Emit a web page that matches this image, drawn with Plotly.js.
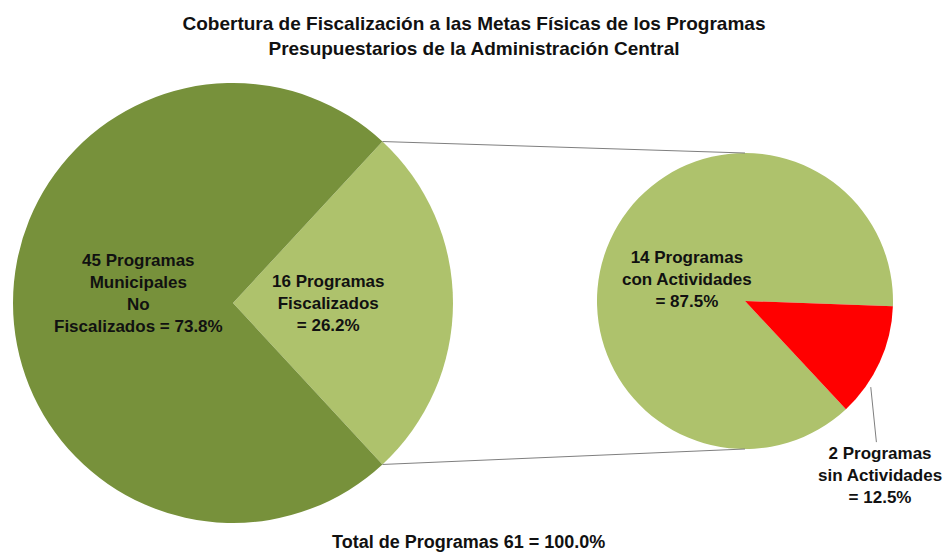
<!DOCTYPE html>
<html>
<head>
<meta charset="utf-8">
<script src="https://cdn.plot.ly/plotly-3.0.1.min.js"></script>
<style>
  html, body { margin: 0; padding: 0; background: #fff; }
  #grafik { width: 943px; height: 554px; }
</style>
</head>
<body>
<div id="grafik"></div>
<script>
/* ==========================================================
   DATA
========================================================== */
const labelsUtama = ["16 Programas<br>Fiscalizados<br>= 26.2%", "45 Programas<br>Municipales<br>No<br>Fiscalizados = 73.8%"];
const nilaiUtama = [16, 45];
const warnaUtama = ["#AEC26C", "#77913B"];

const labelsDetail = ["14 Programas<br>con Actividades<br>= 87.5%", "2 Programas<br>sin Actividades<br>= 12.5%"];
const nilaiDetail = [14, 2];
const warnaDetail = ["#AEC26C", "#FF0000"];

const judul = "Cobertura de Fiscalización a las Metas Físicas de los Programas<br>Presupuestarios de la Administración Central";
const catatanTotal = "Total de Programas 61 = 100.0%";

/* ==========================================================
   GEOMETRI (pixel)
========================================================== */
const W = 943, H = 554;
const pieKiri = { cx: 233, cy: 303, r: 220 };
const pieKanan = { cx: 745, cy: 301, r: 148 };

function domainDari(p) {
  return {
    x: [(p.cx - p.r) / W, (p.cx + p.r) / W],
    y: [(H - p.cy - p.r) / H, (H - p.cy + p.r) / H]
  };
}

// titik di lingkaran, sudut searah jarum jam dari jam 12 (derajat)
function titik(p, sudut, skala) {
  const rad = sudut * Math.PI / 180;
  const px = p.cx + p.r * skala * Math.sin(rad);
  const py = p.cy - p.r * skala * Math.cos(rad);
  return { x: px / W, y: (H - py) / H };
}

const totalUtama = nilaiUtama.reduce((a, b) => a + b, 0);
const totalDetail = nilaiDetail.reduce((a, b) => a + b, 0);

// irisan kecil dipusatkan di arah jam 3
const rotasiKiri = 90 - (nilaiUtama[0] / totalUtama) * 180;
// irisan merah mulai sedikit di bawah jam 3
const rotasiKanan = 137;

function sudutIrisan(nilai, total, rotasi) {
  let mulai = rotasi;
  return nilai.map(v => {
    const span = v / total * 360;
    const s = { mulai: mulai, akhir: mulai + span, tengah: mulai + span / 2 };
    mulai += span;
    return s;
  });
}

const irisKiri = sudutIrisan(nilaiUtama, totalUtama, rotasiKiri);
const irisKanan = sudutIrisan(nilaiDetail, totalDetail, rotasiKanan);

/* ==========================================================
   TRACES
========================================================== */
const traceKiri = {
  type: "pie",
  values: nilaiUtama,
  labels: ["Fiscalizados", "No Fiscalizados"],
  marker: { colors: warnaUtama, line: { width: 0 } },
  sort: false,
  direction: "clockwise",
  rotation: rotasiKiri,
  textinfo: "none",
  hoverinfo: "label+value+percent",
  domain: domainDari(pieKiri),
  showlegend: false
};

const traceKanan = {
  type: "pie",
  values: nilaiDetail,
  labels: ["con Actividades", "sin Actividades"],
  marker: { colors: warnaDetail, line: { width: 0 } },
  sort: false,
  direction: "clockwise",
  rotation: rotasiKanan,
  textinfo: "none",
  hoverinfo: "label+value+percent",
  domain: domainDari(pieKanan),
  showlegend: false
};

/* ==========================================================
   GARIS PENGHUBUNG
========================================================== */
const atasKiri = titik(pieKiri, irisKiri[0].mulai, 1);
const bawahKiri = titik(pieKiri, irisKiri[0].akhir, 1);
const atasKanan = titik(pieKanan, 0, 1);
const bawahKanan = titik(pieKanan, 180, 1);

const shapes = [
  { type: "line", xref: "paper", yref: "paper", x0: atasKiri.x, y0: atasKiri.y, x1: atasKanan.x, y1: atasKanan.y, line: { color: "#7f7f7f", width: 1 } },
  { type: "line", xref: "paper", yref: "paper", x0: bawahKiri.x, y0: bawahKiri.y, x1: bawahKanan.x, y1: bawahKanan.y, line: { color: "#7f7f7f", width: 1 } }
];

/* ==========================================================
   LABEL
========================================================== */
const hurufLabel = { family: "Liberation Sans, Arial, sans-serif", size: 17, color: "#111" };

const annotations = [];

irisKiri.forEach((s, i) => {
  const p = titik(pieKiri, s.tengah, 0.43);
  annotations.push({
    xref: "paper", yref: "paper", x: p.x, y: p.y,
    xanchor: "center", yanchor: "middle",
    yshift: i === 1 ? 10 : 0,
    text: "<b>" + labelsUtama[i] + "</b>", showarrow: false,
    font: hurufLabel, align: "center"
  });
});

const pBesar = titik(pieKanan, irisKanan[0].tengah, 0.43);
annotations.push({
  xref: "paper", yref: "paper", x: pBesar.x, y: pBesar.y,
  xanchor: "center", yanchor: "middle",
  yshift: -5,
  text: "<b>" + labelsDetail[0] + "</b>", showarrow: false,
  font: hurufLabel, align: "center"
});

const ujung = titik(pieKanan, irisKanan[1].mulai + 0.72 * (irisKanan[1].akhir - irisKanan[1].mulai), 1.03);
annotations.push({
  xref: "paper", yref: "paper", x: ujung.x, y: ujung.y,
  ax: 9, ay: 88,
  text: "<b>" + labelsDetail[1] + "</b>", showarrow: true,
  arrowhead: 0, arrowwidth: 1, arrowcolor: "#7f7f7f",
  font: hurufLabel, align: "center"
});

annotations.push({
  xref: "paper", yref: "paper", x: 468 / W, y: (H - 542) / H,
  xanchor: "center", yanchor: "middle",
  text: "<b>" + catatanTotal + "</b>", showarrow: false,
  font: { family: "Liberation Sans, Arial, sans-serif", size: 18, color: "#111" }
});

/* ==========================================================
   LAYOUT
========================================================== */
const layout = {
  width: W,
  height: H,
  margin: { l: 0, r: 0, t: 0, b: 0 },
  paper_bgcolor: "#ffffff",
  title: {
    text: "<b>" + judul + "</b>",
    x: 474 / W,
    xanchor: "center",
    y: 1 - 30 / H,
    yanchor: "middle",
    font: { family: "Liberation Sans, Arial, sans-serif", size: 19, color: "#111" }
  },
  shapes: shapes,
  annotations: annotations
};

Plotly.newPlot("grafik", [traceKiri, traceKanan], layout, { displayModeBar: false, responsive: false });
</script>
</body>
</html>
